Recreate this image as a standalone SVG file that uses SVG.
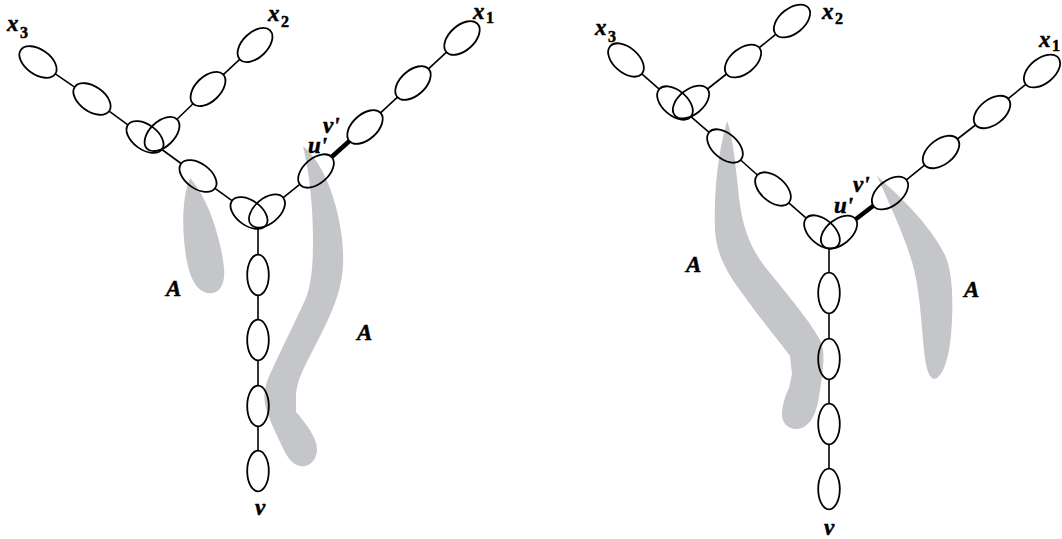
<svg xmlns="http://www.w3.org/2000/svg" width="1062" height="539" viewBox="0 0 1062 539">
<style>
.e{fill:none;stroke:#000;stroke-width:1.8}
.c{stroke:#000;stroke-width:1.6;fill:none}
.t{stroke:#000;stroke-width:4.5;fill:none}
.b{fill:#c5c6c9;stroke:none}
.l{font-family:"Liberation Serif","Times New Roman",serif;font-weight:bold;font-style:italic;font-size:23px;fill:#000;stroke:#000;stroke-width:0.5}
.s{font-style:normal;font-size:16px}
</style>
<rect width="1062" height="539" fill="#fff"/>
<g id="regions">
<path class="b" d="M190,178 C184,192 182,215 184,240 C186,262 190,285 204,292 C216,297 226,288 224,268 C222,245 210,200 190,178 Z"/>
<path class="b" d="M303,146 C318,158 332,185 339,220 C345,250 345,275 336,300 C326,328 312,350 302,372 C298,382 296,390 296,395 L296,412 C305,422 312,432 315,440 C320,452 315,464 305,466 C296,468 289,460 285,452 C278,438 270,422 266,408 C262,394 266,382 272,370 C282,348 296,320 306,298 C312,282 313,262 313,240 C313,210 310,175 303,146 Z"/>
<path class="b" d="M727,121 C733,135 736,170 740,205 C744,232 752,250 766,268 C785,292 808,318 820,340 C826,352 823,370 820,390 C818,405 815,422 802,428 C790,432 781,424 782,412 C783,402 786,394 789,388 L792,374 L790,356 C778,340 760,318 742,293 C726,272 716,252 715,230 C714,200 716,160 727,121 Z"/>
<path class="b" d="M877,176 C900,196 930,225 945,255 C954,275 953,310 951,335 C949,355 945,372 937,378 C930,382 926,370 924,350 C921,320 920,290 912,262 C904,235 890,205 877,176 Z"/>
</g>
<g id="connectors">
<line class="c" x1="55.3" y1="73.9" x2="74.7" y2="87.1"/>
<line class="c" x1="109.1" y1="111.2" x2="127.9" y2="124.8"/>
<line class="c" x1="161.9" y1="149.5" x2="181.1" y2="163.5"/>
<line class="c" x1="215" y1="188.3" x2="232" y2="200.7"/>
<line class="c" x1="239.7" y1="59.3" x2="223.3" y2="74.7"/>
<line class="c" x1="193" y1="103.7" x2="177" y2="119.3"/>
<line class="c" x1="446.5" y1="52.2" x2="428.5" y2="68.8"/>
<line class="c" x1="397.5" y1="97.2" x2="380.5" y2="112.8"/>
<line class="t" x1="349.4" y1="141" x2="331.6" y2="157"/>
<line class="c" x1="299.7" y1="184.3" x2="283.3" y2="197.7"/>
<line class="c" x1="258" y1="229" x2="258" y2="254.8"/>
<line class="c" x1="258" y1="295.2" x2="258" y2="319.8"/>
<line class="c" x1="258" y1="360.2" x2="258" y2="385.8"/>
<line class="c" x1="258" y1="426.2" x2="258" y2="450.8"/>
<line class="c" x1="641.8" y1="73.9" x2="659.2" y2="89.1"/>
<line class="c" x1="690.9" y1="116.7" x2="709.1" y2="132.3"/>
<line class="c" x1="740.6" y1="160" x2="757.4" y2="175"/>
<line class="c" x1="788.8" y1="202.9" x2="806.2" y2="218.1"/>
<line class="c" x1="707.5" y1="89" x2="726.5" y2="74"/>
<line class="c" x1="759.3" y1="47.7" x2="775.7" y2="34.3"/>
<line class="t" x1="855.7" y1="219.2" x2="873.3" y2="205.8"/>
<line class="c" x1="906.4" y1="179.8" x2="924.6" y2="165.2"/>
<line class="c" x1="957.5" y1="139" x2="975.5" y2="125"/>
<line class="c" x1="1008.2" y1="98.7" x2="1025.8" y2="84.3"/>
<line class="c" x1="829" y1="248" x2="829" y2="272.8"/>
<line class="c" x1="829" y1="313.2" x2="829" y2="338.8"/>
<line class="c" x1="829" y1="379.2" x2="829" y2="403.8"/>
<line class="c" x1="829" y1="444.2" x2="829" y2="468.8"/>
</g>
<g id="left-x3"><ellipse class="e" rx="21" ry="12.5" transform="translate(38,62) rotate(35)"/><text class="l" x="7" y="31">x<tspan class="s" x="20" y="38">3</tspan></text></g>
<g id="left-n1"><ellipse class="e" rx="21" ry="12.5" transform="translate(92,99) rotate(35)"/></g>
<g id="left-junction1"><ellipse class="e" rx="21" ry="12.5" transform="translate(145,137) rotate(36)"/><ellipse class="e" rx="21" ry="12.5" transform="translate(162,134) rotate(-44)"/></g>
<g id="left-n2"><ellipse class="e" rx="21" ry="12.5" transform="translate(198,176) rotate(36)"/></g>
<g id="left-x2"><ellipse class="e" rx="21" ry="12.5" transform="translate(255,45) rotate(-44)"/><text class="l" x="268" y="21">x<tspan class="s" x="281" y="27">2</tspan></text></g>
<g id="left-n3"><ellipse class="e" rx="21" ry="12.5" transform="translate(208,89) rotate(-44)"/></g>
<g id="left-junction2"><ellipse class="e" rx="21" ry="12.5" transform="translate(249,213) rotate(36)"/><ellipse class="e" rx="21" ry="12.5" transform="translate(267,211) rotate(-40)"/></g>
<g id="left-u"><ellipse class="e" rx="21" ry="12.5" transform="translate(316,171) rotate(-41)"/><text class="l" x="308" y="153">u'</text></g>
<g id="left-v"><ellipse class="e" rx="21" ry="12.5" transform="translate(365,127) rotate(-42)"/><text class="l" x="323" y="133">v'</text></g>
<g id="left-n4"><ellipse class="e" rx="21" ry="12.5" transform="translate(413,83) rotate(-42)"/></g>
<g id="left-x1"><ellipse class="e" rx="21" ry="12.5" transform="translate(462,38) rotate(-42)"/><text class="l" x="473" y="19">x<tspan class="s" x="486" y="23">1</tspan></text></g>
<g id="left-p1"><ellipse class="e" cx="258" cy="275" rx="10.8" ry="20.3"/></g>
<g id="left-p2"><ellipse class="e" cx="258" cy="340" rx="10.8" ry="20.3"/></g>
<g id="left-p3"><ellipse class="e" cx="258" cy="406" rx="10.8" ry="20.3"/></g>
<g id="left-p4"><ellipse class="e" cx="258" cy="471" rx="10.8" ry="20.3"/><text class="l" x="260" y="515" text-anchor="middle">v</text></g>
<g id="left-labels"><text class="l" x="166" y="296">A</text><text class="l" x="357" y="340">A</text></g>
<g id="right-x3"><ellipse class="e" rx="21" ry="12.5" transform="translate(626,60) rotate(41)"/><text class="l" x="595" y="35">x<tspan class="s" x="608" y="42">3</tspan></text></g>
<g id="right-junction1"><ellipse class="e" rx="21" ry="12.5" transform="translate(675,103) rotate(41)"/><ellipse class="e" rx="21" ry="12.5" transform="translate(691,102) rotate(-39)"/></g>
<g id="right-n1"><ellipse class="e" rx="21" ry="12.5" transform="translate(743,61) rotate(-39)"/></g>
<g id="right-x2"><ellipse class="e" rx="21" ry="12.5" transform="translate(792,21) rotate(-39)"/><text class="l" x="822" y="19">x<tspan class="s" x="835" y="24">2</tspan></text></g>
<g id="right-n2"><ellipse class="e" rx="21" ry="12.5" transform="translate(725,146) rotate(41)"/></g>
<g id="right-n3"><ellipse class="e" rx="21" ry="12.5" transform="translate(773,189) rotate(41)"/></g>
<g id="right-junction2"><ellipse class="e" rx="21" ry="12.5" transform="translate(822,232) rotate(41)"/><ellipse class="e" rx="21" ry="12.5" transform="translate(839,232) rotate(-39)"/><text class="l" x="834" y="213">u'</text></g>
<g id="right-v"><ellipse class="e" rx="21" ry="12.5" transform="translate(890,193) rotate(-39)"/><text class="l" x="853" y="192">v'</text></g>
<g id="right-n4"><ellipse class="e" rx="21" ry="12.5" transform="translate(941,152) rotate(-38)"/></g>
<g id="right-n5"><ellipse class="e" rx="21" ry="12.5" transform="translate(992,112) rotate(-38)"/></g>
<g id="right-x1"><ellipse class="e" rx="21" ry="12.5" transform="translate(1042,71) rotate(-39)"/><text class="l" x="1039" y="47">x<tspan class="s" x="1052" y="51">1</tspan></text></g>
<g id="right-p1"><ellipse class="e" cx="829" cy="293" rx="10.8" ry="20.3"/></g>
<g id="right-p2"><ellipse class="e" cx="829" cy="359" rx="10.8" ry="20.3"/></g>
<g id="right-p3"><ellipse class="e" cx="829" cy="424" rx="10.8" ry="20.3"/></g>
<g id="right-p4"><ellipse class="e" cx="829" cy="489" rx="10.8" ry="20.3"/><text class="l" x="829" y="535" text-anchor="middle">v</text></g>
<g id="right-labels"><text class="l" x="686" y="272">A</text><text class="l" x="964" y="297">A</text></g>
</svg>
